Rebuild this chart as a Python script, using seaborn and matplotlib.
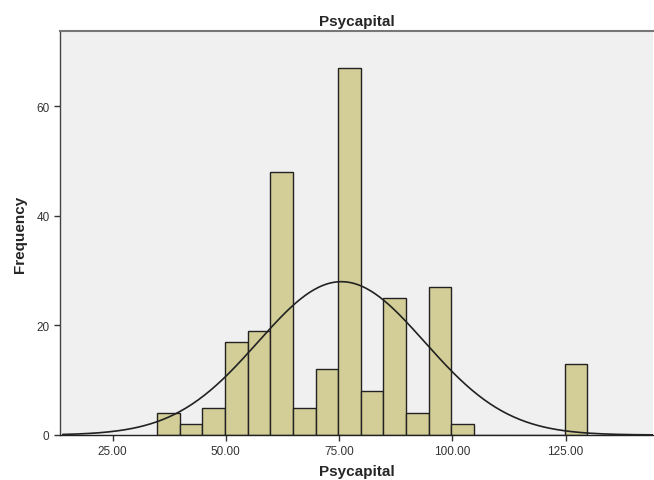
import numpy as np
import pandas as pd
import matplotlib
matplotlib.use("Agg")
import matplotlib.pyplot as plt
import seaborn as sns

# Data (bin width 5)
bin_left = [34.8, 39.8, 44.8, 49.8, 54.8, 59.8, 64.8, 69.8, 74.8, 79.8, 84.8, 89.8, 94.8, 99.8, 104.8, 109.8, 114.8, 119.8, 124.8]
counts = [4, 2, 5, 17, 19, 48, 5, 12, 67, 8, 25, 4, 27, 2, 0, 0, 0, 0, 13]
bin_width = 5
curve_mean = 75.5
curve_sd = 18.4
xticks = [25, 50, 75, 100, 125]
xtick_labels = ["25.00", "50.00", "75.00", "100.00", "125.00"]
yticks = [0, 20, 40, 60]

sns.set_style("white")
plt.rcParams['font.family'] = ['Liberation Sans', 'DejaVu Sans']

fig = plt.figure(figsize=(6.54, 4.81), dpi=100)
ax = fig.add_axes([60/654, 1-436/481, 593/654, (436-32)/481])
ax.set_facecolor("#F0F0F0")

df = pd.DataFrame({"Psycapital": np.array(bin_left) + bin_width/2, "w": counts})
edges = list(bin_left) + [bin_left[-1] + bin_width]
sns.histplot(data=df, x="Psycapital", weights="w", bins=edges, ax=ax,
             color="#D3CE97", alpha=1, edgecolor="#222222", linewidth=1.0)

N = sum(counts)
xs = np.linspace(14, 145, 400)
ys = N * bin_width / (curve_sd * np.sqrt(2*np.pi)) * np.exp(-0.5*((xs-curve_mean)/curve_sd)**2)
sns.lineplot(x=xs, y=ys, ax=ax, color="#222222", linewidth=1.2)

ax.set_xlim(13.4, 144.3)
ax.set_ylim(0, 73.7)
ax.set_xticks(xticks)
ax.set_xticklabels(xtick_labels)
ax.set_yticks(yticks)
ax.tick_params(axis="both", direction="out", length=4, width=1, color="#333333",
               labelsize=8.5, labelcolor="#333333", bottom=True, left=True)
ax.spines["right"].set_visible(False)
ax.spines["top"].set_color("#777777")
ax.spines["top"].set_linewidth(1.5)
ax.spines["left"].set_color("#444444")
ax.spines["bottom"].set_color("#222222")
ax.spines["left"].set_linewidth(1)
ax.spines["bottom"].set_linewidth(1)

ax.set_xlabel("Psycapital", fontsize=11, fontweight="bold", labelpad=5)
ax.set_ylabel("Frequency", fontsize=11, fontweight="bold", labelpad=7)
ax.set_title("Psycapital", fontsize=11, fontweight="bold", pad=4)

fig.savefig("out.png", dpi=100)
